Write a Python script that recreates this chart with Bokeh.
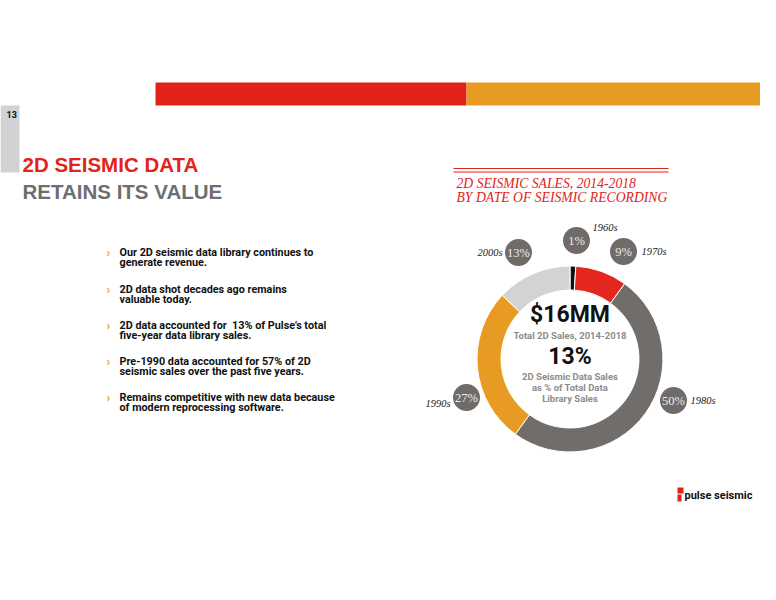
import math
from bokeh.plotting import figure
from bokeh.models import Range1d, ColumnDataSource
from bokeh.core.properties import value
from bokeh.embed import file_html
from bokeh.resources import INLINE

# ---------------- data ----------------
decades = ["1960s", "1970s", "1980s", "1990s", "2000s"]
shares = [1, 9, 50, 27, 13]
ring_colors = ["#111111", "#e3271e", "#716d6b", "#e89b23", "#d3d3d3"]

headline_1 = "2D SEISMIC DATA"
headline_2 = "RETAINS ITS VALUE"
page_no = "13"
chart_title = ["2D SEISMIC SALES, 2014-2018", "BY DATE OF SEISMIC RECORDING"]
bullets = [
    ["Our 2D seismic data library continues to", "generate revenue."],
    ["2D data shot decades ago remains", "valuable today."],
    ["2D data accounted for \u00a013% of Pulse\u2019s total", "five-year data library sales."],
    ["Pre-1990 data accounted for 57% of 2D", "seismic sales over the past five years."],
    ["Remains competitive with new data because", "of modern reprocessing software."],
]
center_big_1 = "$16MM"
center_sub_1 = "Total 2D Sales, 2014-2018"
center_big_2 = "13%"
center_sub_2 = ["2D Seismic Data Sales", "as % of Total Data", "Library Sales"]

# ---------------- layout ----------------
RED = "#e2231a"
ORANGE = "#e89b23"
DGRAY = "#6f6b69"
W, H = 760, 584


def Y(ry):
    return 600 - ry


p = figure(width=W, height=H, x_range=Range1d(0, W), y_range=Range1d(600 - H, 600),
           output_backend="svg", toolbar_location=None, x_axis_type=None, y_axis_type=None,
           min_border=0)
p.grid.visible = False
p.outline_line_color = None
p.background_fill_color = "white"
p.border_fill_color = "white"

SANS = value("Roboto")
SANS2 = value("Liberation Sans")

# header bars
p.quad(left=[155], right=[466], top=[Y(82)], bottom=[Y(105)], color=RED, line_color=None)
p.quad(left=[466], right=[776], top=[Y(82)], bottom=[Y(105)], color=ORANGE, line_color=None)
p.quad(left=[0], right=[19], top=[Y(105)], bottom=[Y(172)], color="#d1d2d4", line_color=None)
p.text(x=[6], y=[Y(114)], text=[page_no], text_font=SANS, text_font_style="bold",
       text_font_size="9px", text_color="#111111", text_baseline="middle", text_align="left")

p.text(x=[22], y=[Y(164)], text=[headline_1], text_font=SANS2, text_font_style="bold",
       text_font_size="20.5px", text_color=RED, text_baseline="middle", text_align="left")
p.text(x=[22], y=[Y(191)], text=[headline_2], text_font=SANS2, text_font_style="bold",
       text_font_size="20.5px", text_color="#6d6e70", text_baseline="middle", text_align="left")

# bullets
bullet_y0 = [252, 289, 325, 361, 397]
for by, lines in zip(bullet_y0, bullets):
    p.text(x=[106], y=[Y(by)], text=["\u203a"], text_font=SANS, text_font_style="bold",
           text_font_size="12px", text_color=ORANGE, text_baseline="middle", text_align="left")
    for i, ln in enumerate(lines):
        p.text(x=[119], y=[Y(by + i * 10.3)], text=[ln], text_font=SANS, text_font_style="bold",
               text_font_size="10.8px", text_color="#111111", text_baseline="middle", text_align="left")

# chart title with double rule
p.segment(x0=[453, 453], y0=[Y(168), Y(171.5)], x1=[668, 668], y1=[Y(168), Y(171.5)],
          line_color=RED, line_width=1)
for i, t in enumerate(chart_title):
    p.text(x=[456], y=[Y(183 + i * 14)], text=[t], text_font=value("Liberation Serif"),
           text_font_style="italic", text_font_size="13.7px", text_color=RED,
           text_baseline="middle", text_align="left")

# donut
cx, cy = 569.5, Y(358.5)
r_out, r_in = 93, 69
cum = 0
starts, ends = [], []
total = sum(shares)
for s in shares:
    starts.append(math.pi / 2 - 2 * math.pi * cum / total)
    cum += s
    ends.append(math.pi / 2 - 2 * math.pi * cum / total)
src = ColumnDataSource(dict(start=starts, end=ends, color=ring_colors, decade=decades, share=shares))
p.annular_wedge(x=cx, y=cy, inner_radius=r_in, outer_radius=r_out, start_angle="start",
                end_angle="end", direction="clock", fill_color="color", line_color="white",
                line_width=1, source=src)

# bubbles (manually placed like the original)
bubble_pos = {"1960s": (576, 240), "1970s": (623, 251), "1980s": (673, 400),
              "1990s": (466, 397), "2000s": (518, 252)}
label_pos = {"1960s": (592, 227, "left"), "1970s": (641, 251, "left"), "1980s": (690, 400, "left"),
             "1990s": (450, 403, "right"), "2000s": (502, 252, "right")}
bx = [bubble_pos[d][0] for d in decades]
byy = [Y(bubble_pos[d][1]) for d in decades]
p.circle(x=bx, y=byy, radius=13.5, fill_color=DGRAY, line_color=None)
p.text(x=bx, y=byy, text=[f"{s}%" for s in shares], text_font=value("Liberation Serif"),
       text_font_size="12.5px", text_color="#ececec", text_baseline="middle", text_align="center")
for d in decades:
    lx, ly, al = label_pos[d]
    p.text(x=[lx], y=[Y(ly)], text=[d], text_font=value("Liberation Serif"), text_font_style="italic",
           text_font_size="10.5px", text_color="#222222", text_baseline="middle", text_align=al)

# center texts
p.text(x=[cx], y=[Y(314)], text=[center_big_1], text_font=SANS, text_font_style="bold",
       text_font_size="23px", text_color="#111111", text_baseline="middle", text_align="center")
p.text(x=[cx], y=[Y(335)], text=[center_sub_1], text_font=SANS, text_font_style="bold",
       text_font_size="9.5px", text_color="#8c8c8c", text_baseline="middle", text_align="center")
p.text(x=[cx], y=[Y(356)], text=[center_big_2], text_font=SANS, text_font_style="bold",
       text_font_size="23px", text_color="#111111", text_baseline="middle", text_align="center")
for i, t in enumerate(center_sub_2):
    p.text(x=[cx], y=[Y(376 + i * 11)], text=[t], text_font=SANS, text_font_style="bold",
           text_font_size="9.5px", text_color="#8c8c8c", text_baseline="middle", text_align="center")

# logo
p.quad(left=[677, 677], right=[683, 681], top=[Y(487), Y(494)], bottom=[Y(493), Y(501)],
       color=RED, line_color=None)
p.text(x=[684], y=[Y(495)], text=["pulse seismic"], text_font=SANS, text_font_style="bold",
       text_font_size="11px", text_color="#111111", text_baseline="middle", text_align="left")

open("out.html", "w").write(file_html(p, INLINE))
